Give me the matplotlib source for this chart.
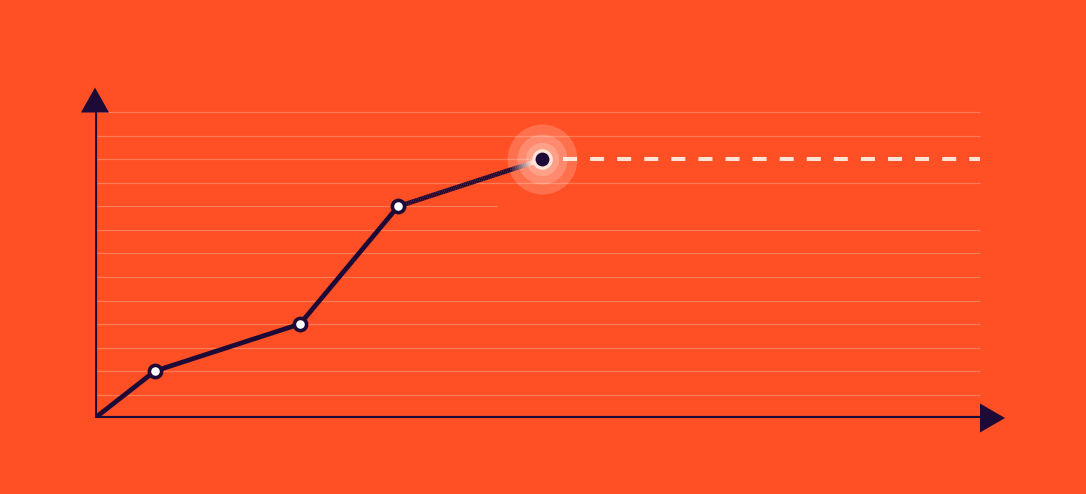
import numpy as np
import matplotlib
matplotlib.use('Agg')
import matplotlib.pyplot as plt
from matplotlib.collections import LineCollection
from matplotlib.patches import Polygon
from matplotlib.transforms import ScaledTranslation
from matplotlib.colors import to_rgb

# 数据：折线各点（x 以 10px 为一个单位，y 以网格间距为一个单位）
x_vals = [0, 6.0, 20.5, 30.3, 44.7]
y_vals = [0, 2, 4, 9, 11]
grid_levels = list(range(1, 14))
grid_ends = {9: 40.2, 11: 44.7}   # 部分网格线提前结束
x_end = 88.5
target_level = 11
dash_start = 46.8

BG = '#FF4F24'
DARK = '#1D0A37'
CREAM = '#FFE3D6'
GRID = '#FF7A57'

fig = plt.figure(figsize=(10.86, 4.94), dpi=100, facecolor=BG)
ax = fig.add_axes([95 / 1086, 76 / 494, 920 / 1086, 335 / 494])
ax.set_facecolor(BG)
ax.set_xlim(0, 92)
ax.set_ylim(0, 335 / 23.5)
ax.axis('off')

# 网格线
for lv in grid_levels:
    ax.hlines(lv, 0, grid_ends.get(lv, x_end), color=GRID, lw=0.9, zorder=1)

# 坐标轴
ax.plot([0, 0], [0, grid_levels[-1]], color=DARK, lw=3.0, solid_capstyle='butt', zorder=3)
ax.plot([0, x_end], [0, 0], color=DARK, lw=3.0, solid_capstyle='butt', zorder=3)

def arrow_head(x, y, verts):
    tr = fig.dpi_scale_trans + ScaledTranslation(x, y, ax.transData)
    ax.add_patch(Polygon(verts, closed=True, facecolor=DARK, edgecolor='none',
                         transform=tr, clip_on=False, zorder=4))

arrow_head(0, grid_levels[-1], [(-0.14, 0), (0.14, 0), (0, 0.25)])
arrow_head(x_end, 0, [(0, -0.145), (0, 0.145), (0.25, 0)])

# 目标虚线
plt.rcParams['lines.scale_dashes'] = False
dl, = ax.plot([dash_start, x_end], [target_level, target_level], color=CREAM, lw=2.9,
              dash_capstyle='butt', zorder=2)
dl.set_dashes([10.1, 9.4])

# 折线（最后一段末尾渐变）
xs, ys = x_vals, y_vals
LW = 3.4
ax.plot(xs[:-1], ys[:-1], color=DARK, lw=LW, solid_joinstyle='round',
        solid_capstyle='round', zorder=5)
x0, y0, x1, y1 = xs[-2], ys[-2], xs[-1], ys[-1]
t = np.linspace(0, 0.95, 80)
px = x0 + (x1 - x0) * t
py = y0 + (y1 - y0) * t
segs = [[(px[i], py[i]), (px[i + 1], py[i + 1])] for i in range(len(t) - 1)]
c0, c1 = np.array(to_rgb(DARK)), np.array(to_rgb(CREAM))
cols = []
for tm in (t[:-1] + t[1:]) / 2:
    f = np.clip((tm - 0.78) / (0.93 - 0.78), 0, 1)
    cols.append(c0 + (c1 - c0) * f)
ax.add_collection(LineCollection(segs, colors=cols, linewidths=LW, capstyle='butt', zorder=5))

# 光晕
for ms in [50.4, 36.0, 24.0]:
    ax.plot(x1, y1, 'o', ms=ms, color='white', alpha=0.19, mew=0, zorder=4)

# 节点
ax.plot(xs[1:-1], ys[1:-1], 'o', ms=8.8, mfc='white', mec=DARK, mew=2.6, zorder=6)
ax.plot(x1, y1, 'o', ms=12.4, mfc=DARK, mec=CREAM, mew=2.4, zorder=7)

fig.savefig('out.png', dpi=100, facecolor=BG)
